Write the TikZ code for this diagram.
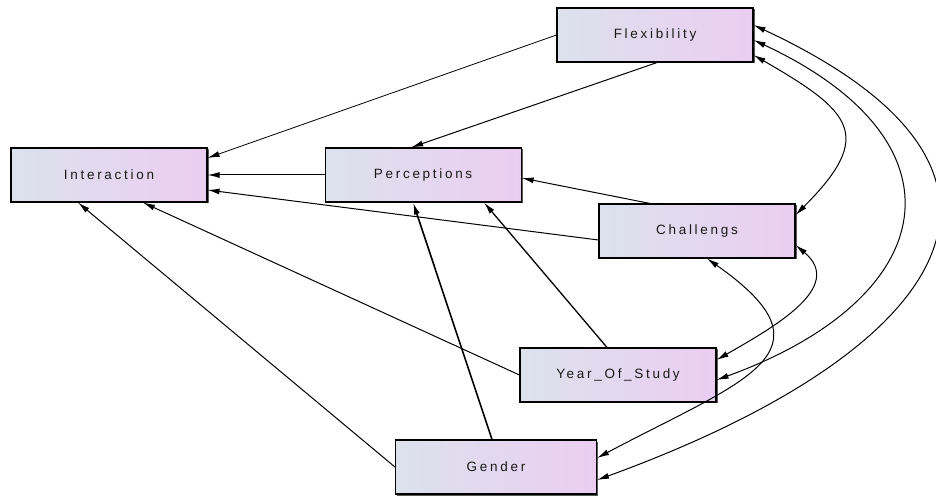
\documentclass[tikz,border=0pt]{standalone}
\usepackage{fontspec}
\setmainfont{Liberation Sans}[LetterSpace=20]
\usepackage{tikz}
\usetikzlibrary{positioning}
\usetikzlibrary{shadows}
\usetikzlibrary{arrows.meta}
\definecolor{boxleft}{HTML}{DCE2EC}
\definecolor{boxright}{HTML}{EBCDF2}
\tikzstyle{line} = [draw, line width=1pt, -{Latex[length=12pt,width=6pt]}]
\tikzstyle{corr} = [draw, line width=1pt, {Latex[length=12pt,width=6pt]}-{Latex[length=12pt,width=6pt]}]

\begin{document}
\begin{tikzpicture}[x=1pt, y=1pt,
				construct/.style={draw, rectangle, line width=1.1pt, minimum width=196pt, minimum height=54pt,
					left color=boxleft, right color=boxright, text=black!90,
					drop shadow={shadow xshift=1.5pt, shadow yshift=-1.5pt, fill=black!65, opacity=1},
					font=\fontsize{13.5}{16}\selectfont}]
				\useasboundingbox (0,0) rectangle (936,495);
				\node[construct](interaction) at (109,320) {Interaction};
				\node[construct, right=117pt of interaction](perceptions) {Perceptions};
				\node[construct](flexibility) at (655,460) {Flexibility};
				\node[construct](challengs) at (697,264) {Challengs};
				\node[construct](year) at (618,120) {Year\_Of\_Study};
				\node[construct, minimum width=201pt](gender) at (496,28) {Gender};
				
				\draw [line, line width=0.8pt] (flexibility.west) -- ([yshift=17pt]interaction.east);
				\draw [line] ([xshift=2pt]flexibility.south) -- ([xshift=-12pt]perceptions.north);
				\draw [line] (perceptions.west) -- (interaction.east);
				\draw [line] ([xshift=-47pt]challengs.north) -- ([yshift=-3pt]perceptions.east);
				\draw [line] ([yshift=-9pt]challengs.west) -- ([yshift=-15pt]interaction.east);
				\draw [line] (year.west) -- ([xshift=34pt]interaction.south);
				\draw [line, line width=1.3pt] ([xshift=-11pt]year.north) -- ([xshift=61pt]perceptions.south);
				\draw [line, line width=1.6pt] ([xshift=-4pt]gender.north) -- ([xshift=-10pt]perceptions.south);
				\draw [line] (gender.west) -- ([xshift=-31pt]interaction.south);
				
				\draw [corr] ([yshift=-20pt]flexibility.east) to[out=-30, in=45, looseness=1.75] ([yshift=16pt]challengs.east);
				\draw [corr] ([yshift=-5pt]flexibility.east) to[out=-25, in=20, looseness=1.8] ([yshift=-5pt]year.east);
				\draw [corr] ([yshift=10pt]flexibility.east) to[out=-25, in=20, looseness=1.92] ([yshift=-13pt]gender.east);
				\draw [corr] ([yshift=-14pt]challengs.east) to[out=-40, in=30, looseness=1.2] ([yshift=15pt]year.east);
				\draw [corr] ([xshift=10pt]challengs.south) to[out=-35, in=28, looseness=1.85] ([yshift=9pt]gender.east);
			\end{tikzpicture}
\end{document}
